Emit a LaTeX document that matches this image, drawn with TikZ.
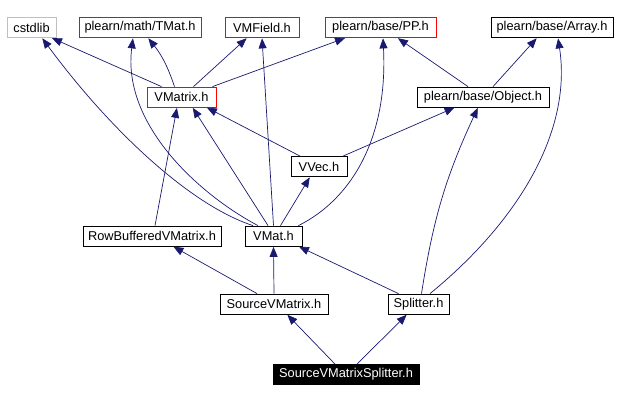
\documentclass[tikz,border=0pt]{standalone}
\usepackage{fontspec}
\setmainfont{Liberation Sans}
\usetikzlibrary{arrows.meta}
\definecolor{edgeblue}{RGB}{25,25,112}
\definecolor{frame}{RGB}{191,191,191}

\begin{document}
\begin{tikzpicture}[x=1pt, y=-1pt,
    file/.style={draw, line width=0.8pt, minimum height=20pt, inner xsep=0pt, inner ysep=0pt, font=\fontsize{12.8}{14}\selectfont},
    redfile/.style={file, draw=red},
    extfile/.style={file, draw=frame},
    curfile/.style={file, fill=black, text=white},
    dep/.style={draw=edgeblue, line width=0.7pt, -{Triangle[length=10pt, width=8pt]}, shorten >=0.5pt}]
                \useasboundingbox (0,0) rectangle (618,401);
                \node[extfile, minimum width=49pt] (cstdlib) at (31.5, 27.5) {cstdlib};
                \node[redfile, minimum width=122pt] (tmat) at (140, 27.5) {plearn/math/TMat.h};
                \node[redfile, minimum width=74pt] (vmfield) at (262, 27.5) {VMField.h};
                \node[redfile, minimum width=111pt] (pp) at (380.5, 27.5) {plearn/base/PP.h};
                \node[file, minimum width=122pt] (array) at (552, 27.5) {plearn/base/Array.h};
                \node[redfile, minimum width=69pt] (vmatrix) at (181.5, 97) {VMatrix.h};
                \node[file, minimum width=132pt] (object) at (483, 97) {plearn/base/Object.h};
                \node[file, minimum width=56pt] (vvec) at (319, 166.5) {VVec.h};
                \node[file, minimum width=138pt] (rowbuf) at (152, 236) {RowBufferedVMatrix.h};
                \node[file, minimum width=57pt] (vmat) at (273.5, 236) {VMat.h};
                \node[file, minimum width=108pt] (srcvm) at (274, 304) {SourceVMatrix.h};
                \node[file, minimum width=61pt] (splitter) at (418.5, 304) {Splitter.h};
                \node[curfile, minimum width=146pt] (svms) at (346, 374.5) {SourceVMatrixSplitter.h};

                \draw[dep] ([xshift=-20pt]vmatrix.north) -- ([xshift=20pt]cstdlib.south);
                \draw[dep] ([xshift=-7pt]vmatrix.north) to[bend right=10] ([xshift=8pt]tmat.south);
                \draw[dep] ([xshift=12pt]vmatrix.north) -- ([xshift=-15pt]vmfield.south);
                \draw[dep] ([xshift=31pt]vmatrix.north) -- ([xshift=-35pt]pp.south);
                \draw[dep] ([xshift=-15pt]object.north) -- ([xshift=17pt]pp.south);
                \draw[dep] ([xshift=10pt]object.north) -- ([xshift=-15pt]array.south);
                \draw[dep] ([xshift=-19pt]vvec.north) -- ([xshift=25pt]vmatrix.south);
                \draw[dep] ([xshift=24pt]vvec.north) -- ([xshift=-28pt]object.south);
                \draw[dep] ([xshift=-20.5pt]vmat.north) .. controls (190,205) and (110,130) .. ([xshift=10.5pt]cstdlib.south);
                \draw[dep] ([xshift=-15.5pt]vmat.north) .. controls (200,195) and (122,125) .. ([xshift=-7pt]tmat.south);
                \draw[dep] ([xshift=-5.5pt]vmat.north) -- ([xshift=11pt]vmatrix.south);
                \draw[dep] (vmat.north) -- (vmfield.south);
                \draw[dep] ([xshift=7pt]vmat.north) -- ([xshift=-9pt]vvec.south);
                \draw[dep] ([xshift=-4pt]vmat.north east) .. controls (350,200) and (388,140) .. ([xshift=2.5pt]pp.south);
                \draw[dep] ([xshift=3pt]rowbuf.north) -- ([xshift=-4.5pt]vmatrix.south);
                \draw[dep] ([xshift=-17pt]srcvm.north) -- ([xshift=21pt]rowbuf.south);
                \draw[dep] (srcvm.north) -- (vmat.south);
                \draw[dep] ([xshift=-20pt]splitter.north) -- ([xshift=25pt]vmat.south);
                \draw[dep] ([xshift=3pt]splitter.north) to[bend left=8] ([xshift=-5pt]object.south);
                \draw[dep] ([xshift=11.5pt]splitter.north) .. controls (520,220) and (572,130) .. ([xshift=6pt]array.south);
                \draw[dep] ([xshift=-11pt]svms.north) -- ([xshift=13pt]srcvm.south);
                \draw[dep] ([xshift=11pt]svms.north) -- ([xshift=-11.5pt]splitter.south);
            \end{tikzpicture}
\end{document}
